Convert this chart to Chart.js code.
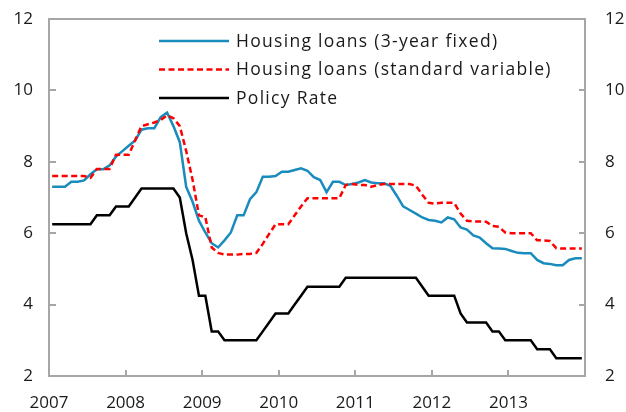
<!DOCTYPE html>
<html>
<head>
<meta charset="utf-8">
<script src="https://cdn.jsdelivr.net/npm/chart.js@4.4.1/dist/chart.umd.min.js"></script>
<style>
  html, body { margin: 0; padding: 0; background: #ffffff; }
  #wrap { width: 626px; height: 412px; position: relative; }
</style>
</head>
<body>
<div id="wrap"><canvas id="c" width="626" height="412"></canvas></div>
<script>
// ---- Data (monthly, Jan 2007 – Dec 2013) ----
const startYear = 2007;
const yearTicks = [2007, 2008, 2009, 2010, 2011, 2012, 2013];
const seriesNames = ['Housing loans (3-year fixed)', 'Housing loans (standard variable)', 'Policy Rate'];

const fixed3yr = [
  7.3, 7.3, 7.3, 7.44, 7.44, 7.48, 7.65, 7.79, 7.79, 7.9, 8.15, 8.3,
  8.45, 8.6, 8.9, 8.94, 8.94, 9.25, 9.38, 9.0, 8.55, 7.3, 6.88, 6.35,
  6.02, 5.72, 5.6, 5.8, 6.02, 6.5, 6.5, 6.95, 7.15, 7.58, 7.58, 7.6,
  7.72, 7.72, 7.77, 7.82, 7.75, 7.57, 7.49, 7.15, 7.44, 7.44, 7.35, 7.38,
  7.42, 7.49, 7.42, 7.4, 7.4, 7.33, 7.05, 6.75, 6.65, 6.55, 6.44, 6.37,
  6.35, 6.3, 6.44, 6.39, 6.16, 6.1, 5.94, 5.88, 5.72, 5.58, 5.57, 5.56,
  5.5, 5.45, 5.44, 5.44, 5.25, 5.16, 5.14, 5.1, 5.1, 5.25, 5.3, 5.3
];

const standardVariable = [
  7.6, 7.6, 7.6, 7.6, 7.6, 7.6, 7.55, 7.8, 7.8, 7.8, 8.2, 8.2,
  8.2, 8.6, 9.0, 9.05, 9.1, 9.17, 9.3, 9.22, 9.0, 8.3, 7.5, 6.5,
  6.45, 5.6, 5.45, 5.4, 5.4, 5.4, 5.42, 5.42, 5.45, 5.7, 5.98, 6.25,
  6.25, 6.25, 6.5, 6.75, 6.98, 6.98, 6.98, 6.98, 6.98, 6.98, 7.35, 7.38,
  7.35, 7.35, 7.3, 7.35, 7.38, 7.38, 7.38, 7.38, 7.38, 7.33, 7.08, 6.85,
  6.83, 6.85, 6.85, 6.85, 6.55, 6.35, 6.33, 6.33, 6.32, 6.2, 6.18, 6.02,
  6.0, 6.0, 6.0, 6.0, 5.8, 5.8, 5.78, 5.58, 5.57, 5.57, 5.57, 5.57
];

const policyRate = [
  6.25, 6.25, 6.25, 6.25, 6.25, 6.25, 6.25, 6.5, 6.5, 6.5, 6.75, 6.75,
  6.75, 7.0, 7.25, 7.25, 7.25, 7.25, 7.25, 7.25, 7.0, 6.0, 5.25, 4.25,
  4.25, 3.25, 3.25, 3.0, 3.0, 3.0, 3.0, 3.0, 3.0, 3.25, 3.5, 3.75,
  3.75, 3.75, 4.0, 4.25, 4.5, 4.5, 4.5, 4.5, 4.5, 4.5, 4.75, 4.75,
  4.75, 4.75, 4.75, 4.75, 4.75, 4.75, 4.75, 4.75, 4.75, 4.75, 4.5, 4.25,
  4.25, 4.25, 4.25, 4.25, 3.75, 3.5, 3.5, 3.5, 3.5, 3.25, 3.25, 3.0,
  3.0, 3.0, 3.0, 3.0, 2.75, 2.75, 2.75, 2.5, 2.5, 2.5, 2.5, 2.5
];

const yTicks = [2, 4, 6, 8, 10, 12];

// month index -> time position (mid-month)
const toPoints = arr => arr.map((v, i) => ({ x: startYear + (i + 0.5) / 12, y: v }));

const FONT = '"Open Sans", "Noto Sans", sans-serif';
const TICK_SIZE = 17;
const LEGEND_SIZE = 17.5;
const FRAME = '#a6a6a6';
const TEXT = '#1a1a1a';

const framePlugin = {
  id: 'frameAndTicks',
  beforeDatasetsDraw(chart) {
    const { ctx, chartArea: a, scales } = chart;
    ctx.save();
    ctx.strokeStyle = FRAME;
    ctx.lineWidth = 2;
    ctx.beginPath();
    yearTicks.concat([startYear + 7]).forEach(yr => {
      const px = Math.round(scales.x.getPixelForValue(yr));
      ctx.moveTo(px, a.bottom);
      ctx.lineTo(px, a.bottom - 6);
    });
    yTicks.forEach(v => {
      const py = Math.round(scales.y.getPixelForValue(v));
      ctx.moveTo(a.left, py);
      ctx.lineTo(a.left + 7, py);
      const py2 = Math.round(scales.y2.getPixelForValue(v));
      ctx.moveTo(a.right, py2);
      ctx.lineTo(a.right - 6, py2);
    });
    ctx.stroke();
    ctx.strokeRect(a.left, a.top, a.right - a.left, a.bottom - a.top);
    ctx.restore();
  },
  afterDatasetsDraw(chart) {
    const { ctx } = chart;
    ctx.save();
    const rows = [41, 69.5, 98];
    chart.data.datasets.forEach((ds, i) => {
      const y = rows[i];
      ctx.beginPath();
      ctx.strokeStyle = ds.borderColor;
      ctx.lineWidth = ds.borderWidth;
      ctx.setLineDash(ds.borderDash || []);
      ctx.moveTo(159, y);
      ctx.lineTo(229, y);
      ctx.stroke();
      ctx.setLineDash([]);
      ctx.fillStyle = TEXT;
      ctx.font = LEGEND_SIZE + 'px ' + FONT;
      ctx.letterSpacing = '1.3px';
      ctx.textBaseline = 'middle';
      ctx.textAlign = 'left';
      ctx.fillText(ds.label, 236, y + 1);
      ctx.letterSpacing = '0px';
    });
    ctx.restore();
  }
};

const yFit = w => s => { s.width = w; s.paddingTop = 0; s.paddingBottom = 0; };

new Chart(document.getElementById('c'), {
  type: 'line',
  data: {
    datasets: [
      { label: seriesNames[0], data: toPoints(fixed3yr), borderColor: '#1a8bbd', borderWidth: 2.5, pointRadius: 0, tension: 0, order: 2, yAxisID: 'y' },
      { label: seriesNames[1], data: toPoints(standardVariable), borderColor: '#ff0000', borderWidth: 2.5, borderDash: [6, 3.5], pointRadius: 0, tension: 0, order: 1, yAxisID: 'y' },
      { label: seriesNames[2], data: toPoints(policyRate), borderColor: '#000000', borderWidth: 2.5, pointRadius: 0, tension: 0, order: 0, yAxisID: 'y' }
    ]
  },
  options: {
    responsive: false,
    animation: false,
    devicePixelRatio: 1,
    layout: { padding: { top: 19, left: 0, right: 0, bottom: 0 } },
    plugins: { legend: { display: false }, tooltip: { enabled: false } },
    scales: {
      x: {
        type: 'linear',
        min: startYear,
        max: startYear + 7,
        grid: { display: false, drawTicks: false },
        border: { display: false },
        afterBuildTicks: s => { s.ticks = yearTicks.concat([startYear + 7]).map(v => ({ value: v })); },
        ticks: {
          padding: 17,
          color: TEXT,
          font: { family: FONT, size: TICK_SIZE },
          maxRotation: 0,
          autoSkip: false,
          callback: v => (yearTicks.includes(v) ? String(v) : '')
        },
        afterFit: s => { s.height = 36; s.paddingLeft = 0; s.paddingRight = 0; }
      },
      y: {
        position: 'left',
        min: 2, max: 12,
        grid: { display: false, drawTicks: false },
        border: { display: false },
        afterBuildTicks: s => { s.ticks = yTicks.map(v => ({ value: v })); },
        ticks: { padding: 16, color: TEXT, font: { family: FONT, size: TICK_SIZE } },
        afterFit: yFit(49)
      },
      y2: {
        position: 'right',
        min: 2, max: 12,
        grid: { display: false, drawTicks: false },
        border: { display: false },
        afterBuildTicks: s => { s.ticks = yTicks.map(v => ({ value: v })); },
        ticks: { padding: 20, color: TEXT, font: { family: FONT, size: TICK_SIZE } },
        afterFit: yFit(41)
      }
    }
  },
  plugins: [framePlugin]
});
</script>
</body>
</html>
